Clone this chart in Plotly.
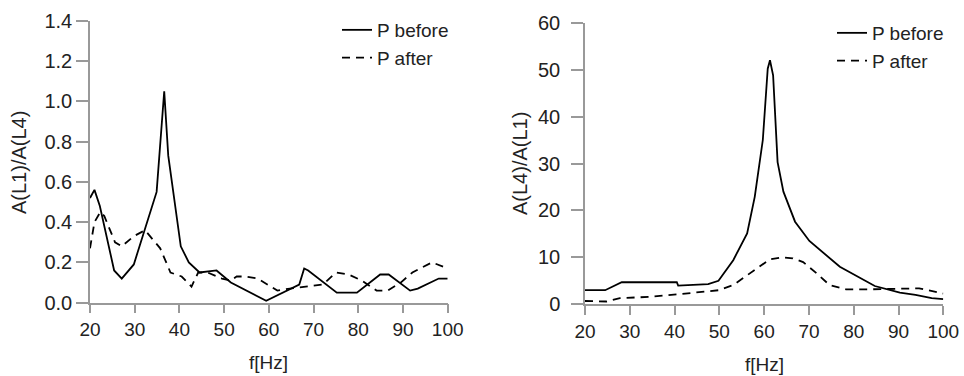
import plotly.graph_objects as go

# Left panel: A(L1)/A(L4)
left_before_f = [20, 21, 22.2, 25.4, 27.1, 29.8, 34.9, 36.6, 37.5, 40.3, 42.1, 44.5, 48.3, 51.5,
                 59.4, 66.8, 67.9, 68.8, 75.2, 79.7, 84.9, 86.8, 91.6, 93.3, 98.0, 100]
left_before_v = [0.52, 0.56, 0.48, 0.16, 0.12, 0.19, 0.55, 1.05, 0.73, 0.28, 0.20, 0.15, 0.16, 0.10,
                 0.01, 0.09, 0.17, 0.16, 0.05, 0.05, 0.14, 0.14, 0.06, 0.07, 0.12, 0.12]
left_after_f = [20, 21, 22.3, 23.2, 25.6, 27.1, 29.8, 32.3, 35.7, 38.0, 40.5, 42.7, 44.2, 46.3, 49.5,
                51.4, 52.8, 54.6, 57.5, 61.9, 64.7, 69.2, 72.1, 75.0, 77.8, 80.8, 84.1, 86.6, 89.5,
                92.1, 96.5, 100]
left_after_v = [0.27, 0.40, 0.45, 0.43, 0.30, 0.28, 0.33, 0.36, 0.27, 0.15, 0.13, 0.08, 0.15, 0.15, 0.12,
                0.11, 0.13, 0.13, 0.12, 0.06, 0.07, 0.08, 0.09, 0.15, 0.14, 0.11, 0.06, 0.06, 0.10,
                0.15, 0.20, 0.17]

# Right panel: A(L4)/A(L1)
right_before_f = [20, 24.5, 28.2, 40.5, 40.8, 47.5, 49.8, 53.1, 56.2, 57.9, 59.7, 60.8, 61.3, 62.0,
                  63.0, 64.3, 66.9, 70.1, 76.9, 84.7, 90.3, 93.8, 97.4, 100]
right_before_v = [3.0, 3.0, 4.7, 4.7, 4.0, 4.3, 5.0, 9.4, 15.1, 22.9, 35.0, 50.2, 52.0, 48.8,
                  30.3, 24.0, 17.6, 13.5, 8.0, 3.9, 2.5, 2.0, 1.3, 1.1]
right_after_f = [20, 24.8, 27.8, 34.5, 40.5, 44.9, 49.8, 53.1, 57.6, 61.3, 63.9, 66.4, 68.7, 71.6,
                 74.6, 78.3, 84.2, 90.2, 94.6, 100]
right_after_v = [0.7, 0.6, 1.3, 1.6, 2.1, 2.6, 3.0, 4.1, 7.1, 9.6, 10.0, 9.8, 9.0, 6.7,
                 4.1, 3.2, 3.2, 3.4, 3.4, 2.3]

x_ticks = [20, 30, 40, 50, 60, 70, 80, 90, 100]
left_y_ticks = [0.0, 0.2, 0.4, 0.6, 0.8, 1.0, 1.2, 1.4]
right_y_ticks = [0, 10, 20, 30, 40, 50, 60]

series_names = ["P before", "P after"]
left_title = "A(L1)/A(L4)"
right_title = "A(L4)/A(L1)"
x_title = "f[Hz]"

FONT = "Liberation Sans, Arial, sans-serif"
TXT = "#222222"
AX = "#999999"
DASH = "8px,6px"
LW = 1.8

fig = go.Figure()
fig.add_trace(go.Scatter(x=left_before_f, y=left_before_v, mode="lines", name=series_names[0],
                         line=dict(color="black", width=LW), xaxis="x", yaxis="y", legend="legend"))
fig.add_trace(go.Scatter(x=left_after_f, y=left_after_v, mode="lines", name=series_names[1],
                         line=dict(color="black", width=LW, dash=DASH), xaxis="x", yaxis="y", legend="legend"))
fig.add_trace(go.Scatter(x=right_before_f, y=right_before_v, mode="lines", name=series_names[0],
                         line=dict(color="black", width=LW), xaxis="x2", yaxis="y2", legend="legend2"))
fig.add_trace(go.Scatter(x=right_after_f, y=right_after_v, mode="lines", name=series_names[1],
                         line=dict(color="black", width=LW, dash=DASH), xaxis="x2", yaxis="y2", legend="legend2"))

W, H = 964, 376
def px_x(p): return p / W
def px_y(p): return (H - p) / H

xcommon = dict(range=[20, 100], tickvals=x_ticks, showline=True, linecolor=AX, linewidth=1.5,
               ticks="outside", ticklen=9, tickcolor=AX, tickwidth=1.5, showgrid=False, zeroline=False,
               tickfont=dict(family=FONT, size=19, color=TXT), automargin=False,
               ticklabeloverflow="allow")
ycommon = dict(showline=True, linecolor=AX, linewidth=1.5, ticks="outside", ticklen=12, tickcolor=AX,
               tickwidth=1.5, showgrid=False, zeroline=False,
               tickfont=dict(family=FONT, size=20, color=TXT), automargin=False)

fig.update_layout(
    width=W, height=H, margin=dict(l=0, r=0, t=0, b=0),
    paper_bgcolor="white", plot_bgcolor="white",
    font=dict(family=FONT, size=19, color=TXT),
    xaxis=dict(domain=[px_x(90), px_x(447.7)], anchor="y", **xcommon),
    yaxis=dict(domain=[px_y(302.7), px_y(20.7)], anchor="x", range=[0, 1.4], tickvals=left_y_ticks,
               tickformat=".1f", **ycommon),
    xaxis2=dict(domain=[px_x(585), px_x(943.3)], anchor="y2", **xcommon),
    yaxis2=dict(domain=[px_y(304.3), px_y(22.7)], anchor="x2", range=[0, 60], tickvals=right_y_ticks,
                ticklabelstandoff=7, **ycommon),
    legend=dict(x=px_x(337), y=px_y(11), xanchor="left", yanchor="top", bgcolor="rgba(0,0,0,0)",
                font=dict(family=FONT, size=19, color=TXT), tracegroupgap=0, itemwidth=30),
    legend2=dict(x=px_x(832), y=px_y(14), xanchor="left", yanchor="top", bgcolor="rgba(0,0,0,0)",
                 font=dict(family=FONT, size=19, color=TXT), tracegroupgap=0, itemwidth=30),
    annotations=[
        dict(text=x_title, x=px_x(268), y=px_y(362), xref="paper", yref="paper", showarrow=False,
             font=dict(family=FONT, size=19, color=TXT), xanchor="center", yanchor="middle"),
        dict(text=x_title, x=px_x(764), y=px_y(364), xref="paper", yref="paper", showarrow=False,
             font=dict(family=FONT, size=19, color=TXT), xanchor="center", yanchor="middle"),
        dict(text=left_title, x=px_x(18.5), y=px_y(162.5), xref="paper", yref="paper", showarrow=False,
             textangle=-90, font=dict(family=FONT, size=20, color=TXT), xanchor="center", yanchor="middle"),
        dict(text=right_title, x=px_x(520), y=px_y(164), xref="paper", yref="paper", showarrow=False,
             textangle=-90, font=dict(family=FONT, size=20, color=TXT), xanchor="center", yanchor="middle"),
    ],
)

fig.write_html("out.html", config={"displayModeBar": False},
               post_script="document.body.style.margin='0px';"
                           "document.documentElement.style.overflow='hidden';"
                           "document.body.style.overflow='hidden';")
